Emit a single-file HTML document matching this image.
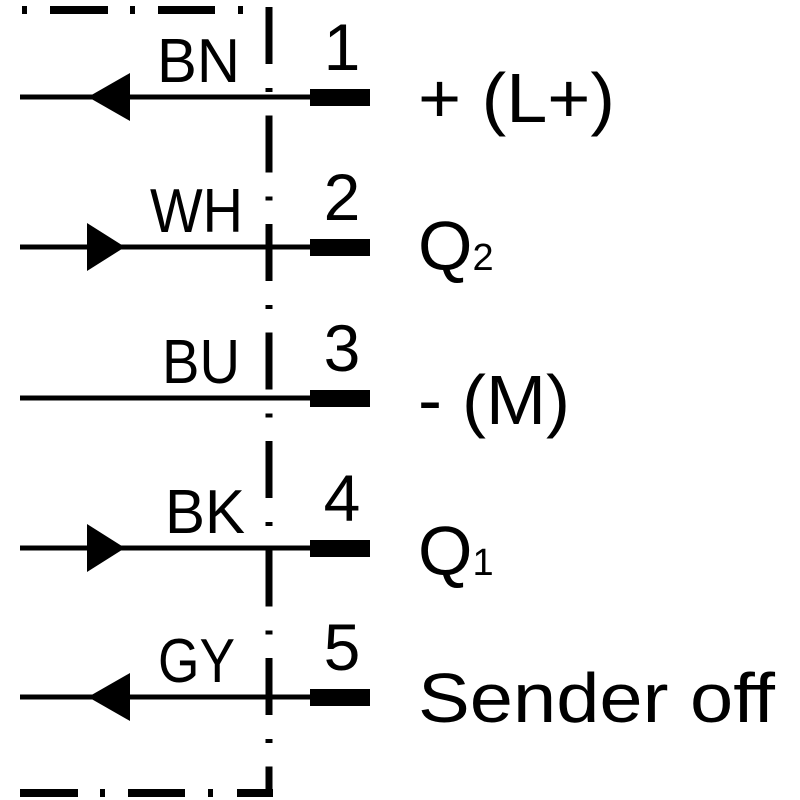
<!DOCTYPE html>
<html><head><meta charset="utf-8"><style>html,body{margin:0;padding:0;background:#fff}svg{display:block}</style></head>
<body>
<svg width="800" height="800" viewBox="0 0 800 800" xmlns="http://www.w3.org/2000/svg" font-family="Liberation Sans, sans-serif" fill="#000">
<!-- top border -->
<rect x="22" y="6" width="5" height="8"/>
<rect x="50" y="6" width="58" height="8"/>
<rect x="130" y="6" width="5" height="8"/>
<rect x="158" y="6" width="57" height="8"/>
<rect x="238" y="6" width="5" height="8"/>
<!-- bottom border -->
<rect x="20" y="789" width="58" height="8"/>
<rect x="100" y="789" width="5" height="8"/>
<rect x="128" y="789" width="57" height="8"/>
<rect x="208" y="789" width="5" height="8"/>
<rect x="237" y="789" width="36" height="8"/>
<!-- vertical -->
<line x1="269" y1="7" x2="269" y2="797" stroke="#000" stroke-width="7" stroke-dasharray="57 24 4 23.5"/>
<!-- wires -->
<g stroke="#000" stroke-width="5">
<line x1="20" y1="97" x2="312" y2="97"/>
<line x1="20" y1="247" x2="312" y2="247"/>
<line x1="20" y1="398" x2="312" y2="398"/>
<line x1="20" y1="548" x2="312" y2="548"/>
<line x1="20" y1="697" x2="312" y2="697"/>
</g>
<rect x="310" y="89" width="60" height="17"/>
<rect x="310" y="239" width="60" height="17"/>
<rect x="310" y="390" width="60" height="17"/>
<rect x="310" y="540" width="60" height="17"/>
<rect x="310" y="689" width="60" height="17"/>
<!-- arrows -->
<polygon points="88,97 130,73 130,121"/>
<polygon points="125,247 87,223 87,271"/>
<polygon points="125,548 87,524 87,572"/>
<polygon points="88,697 130,673 130,721"/>
<!-- wire labels -->
<g font-size="62">
<text x="157" y="82" textLength="83" lengthAdjust="spacingAndGlyphs">BN</text>
<text x="150" y="232" textLength="93" lengthAdjust="spacingAndGlyphs">WH</text>
<text x="162" y="383" textLength="78" lengthAdjust="spacingAndGlyphs">BU</text>
<text x="165" y="533" textLength="80" lengthAdjust="spacingAndGlyphs">BK</text>
<text x="158" y="682" textLength="77" lengthAdjust="spacingAndGlyphs">GY</text>
</g>
<g font-size="66" text-anchor="middle">
<text x="342" y="70">1</text>
<text x="342" y="220">2</text>
<text x="342" y="371">3</text>
<text x="342" y="521">4</text>
<text x="342" y="670">5</text>
</g>
<g font-size="70">
<text x="418" y="122" textLength="197" lengthAdjust="spacingAndGlyphs">+ (L+)</text>
<text x="418" y="270">Q<tspan font-size="38" dx="0">2</tspan></text>
<text x="418" y="424" textLength="152" lengthAdjust="spacingAndGlyphs">- (M)</text>
<text x="418" y="575">Q<tspan font-size="38" dx="0">1</tspan></text>
<text x="418" y="722" textLength="357" lengthAdjust="spacingAndGlyphs">Sender off</text>
</g>
</svg>
</body></html>
